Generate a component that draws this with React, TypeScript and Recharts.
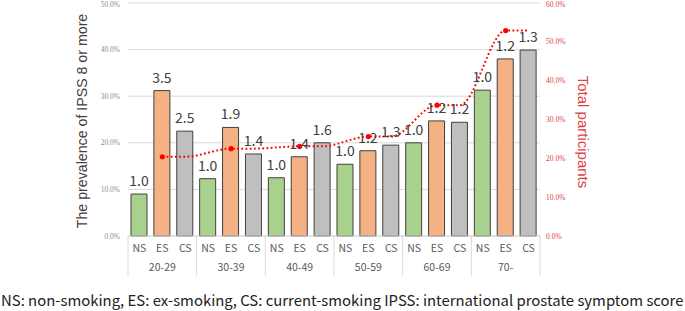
import React from 'react';
import { ComposedChart, Bar, Line, XAxis, YAxis, CartesianGrid, Cell, LabelList } from 'recharts';

const ageGroups = ['20-29', '30-39', '40-49', '50-59', '60-69', '70-'];
const smokingKinds = ['NS', 'ES', 'CS'];

// prevalence of IPSS >= 8 (%), per smoking status
const prevNS = [9.0, 12.3, 12.5, 15.4, 20.0, 31.3];
const prevES = [31.2, 23.3, 17.0, 18.3, 24.7, 38.0];
const prevCS = [22.5, 17.6, 20.0, 19.5, 24.4, 39.9];

// odds ratios printed above the bars
const orNS = ['1.0', '1.0', '1.0', '1.0', '1.0', '1.0'];
const orES = ['3.5', '1.9', '1.4', '1.2', '1.2', '1.2'];
const orCS = ['2.5', '1.4', '1.6', '1.3', '1.2', '1.3'];

// total participants (%), right axis
const totalParticipants = [20.4, 22.5, 23.1, 25.6, 33.7, 52.9];

const leftTicks = [0, 10, 20, 30, 40, 50];
const rightTicks = [0, 10, 20, 30, 40, 50, 60];

const colors: Record<string, string> = { NS: '#a9d18e', ES: '#f4b183', CS: '#bfbfbf' };

const prevBySub: Record<string, number[]> = { NS: prevNS, ES: prevES, CS: prevCS };
const orBySub: Record<string, string[]> = { NS: orNS, ES: orES, CS: orCS };

const data = ageGroups.flatMap((g, gi) =>
  smokingKinds.map((s) => ({
    id: `${g}-${s}`,
    group: g,
    sub: s,
    prev: prevBySub[s][gi],
    or: orBySub[s][gi],
    total: s === 'NS' ? null : totalParticipants[gi],
  }))
);

const W = 685;
const H = 285;
const TOP = 3;
const LEFT_W = 128;
const RIGHT_W = 145;
const X_H = 49;
const PLOT_BOTTOM = H - X_H;
const BAND = (W - LEFT_W - RIGHT_W) / data.length;
const FONT_JP = '"Noto Sans CJK JP", sans-serif';

function AxisTick(props: any) {
  const { x, payload } = props;
  const i = payload.index;
  const row = data[i];
  return (
    <g>
      <text x={x} y={PLOT_BOTTOM + 16} textAnchor="middle" fontSize={10.5} fill="#595959" fontFamily={FONT_JP}>
        {row.sub}
      </text>
      {i % 3 === 1 && (
        <text x={x} y={PLOT_BOTTOM + 35} textAnchor="middle" fontSize={10.5} fill="#595959" fontFamily={FONT_JP}>
          {row.group}
        </text>
      )}
      {i % 3 === 0 && (
        <line x1={x - BAND / 2} x2={x - BAND / 2} y1={PLOT_BOTTOM} y2={PLOT_BOTTOM + 40} stroke="#d9d9d9" />
      )}
      {i === data.length - 1 && (
        <line x1={x + BAND / 2} x2={x + BAND / 2} y1={PLOT_BOTTOM} y2={PLOT_BOTTOM + 40} stroke="#d9d9d9" />
      )}
    </g>
  );
}

function EsDot(props: any) {
  const { cx, cy, payload } = props;
  if (payload.sub !== 'ES' || cx == null || cy == null) return <g />;
  return <circle cx={cx} cy={cy} r={2.6} fill="#ff0000" stroke="none" />;
}

export default function App() {
  return (
    <div style={{ position: 'absolute', left: 0, top: 0, width: W, height: 311, background: '#fff' }}>
      <ComposedChart width={W} height={H} data={data} margin={{ top: TOP, right: 0, left: 0, bottom: 0 }}>
        <CartesianGrid yAxisId="left" vertical={false} stroke="#d9d9d9" />
        <XAxis dataKey="id" height={X_H} interval={0} tick={<AxisTick />} tickLine={false} axisLine={{ stroke: '#d9d9d9' }} />
        <YAxis
          yAxisId="left"
          width={LEFT_W}
          domain={[0, 50]}
          ticks={leftTicks}
          tickFormatter={(v: number) => `${v.toFixed(1)}%`}
          tick={{ fontSize: 7.5, fill: '#8c8c8c' }}
          tickLine={false}
          axisLine={false}
          tickSize={0}
          tickMargin={8}
        />
        <YAxis
          yAxisId="right"
          orientation="right"
          width={RIGHT_W}
          domain={[0, 60]}
          ticks={rightTicks}
          tickFormatter={(v: number) => `${v.toFixed(1)}%`}
          tick={{ fontSize: 7.5, fill: '#e0413f', textAnchor: 'start' }}
          tickLine={false}
          axisLine={false}
          tickSize={0}
          tickMargin={6}
        />
        <Bar yAxisId="left" dataKey="prev" barSize={16} stroke="#404040" strokeWidth={1} isAnimationActive={false}>
          {data.map((d, i) => (
            <Cell key={i} fill={colors[d.sub]} />
          ))}
          <LabelList dataKey="or" position="top" offset={8} fontSize={14} fill="#404040" fontFamily={FONT_JP} />
        </Bar>
        <Line
          yAxisId="right"
          dataKey="total"
          type="monotone"
          connectNulls
          stroke="#ff0000"
          strokeWidth={2}
          strokeDasharray="1.8 2.4"
          dot={<EsDot />}
          activeDot={false}
          isAnimationActive={false}
        />
      </ComposedChart>
      <div
        style={{
          position: 'absolute', left: 82, top: 121, transform: 'translate(-50%, -50%) rotate(-90deg)',
          whiteSpace: 'nowrap', fontFamily: '"Liberation Sans", Arial, sans-serif', fontSize: 14.2, color: '#404040',
        }}
      >
        The prevalence of IPSS 8 or more
      </div>
      <div
        style={{
          position: 'absolute', left: 583, top: 132, transform: 'translate(-50%, -50%) rotate(90deg)',
          whiteSpace: 'nowrap', fontFamily: '"Liberation Sans", Arial, sans-serif', fontSize: 15, color: '#e0413f',
        }}
      >
        Total participants
      </div>
      <div
        style={{
          position: 'absolute', left: 1, top: 291, width: W, whiteSpace: 'nowrap',
          fontFamily: FONT_JP, fontSize: 14.9, color: '#222', lineHeight: '18px',
        }}
      >
        NS: non-smoking, ES: ex-smoking, CS: current-smoking IPSS: international prostate symptom score
      </div>
    </div>
  );
}
